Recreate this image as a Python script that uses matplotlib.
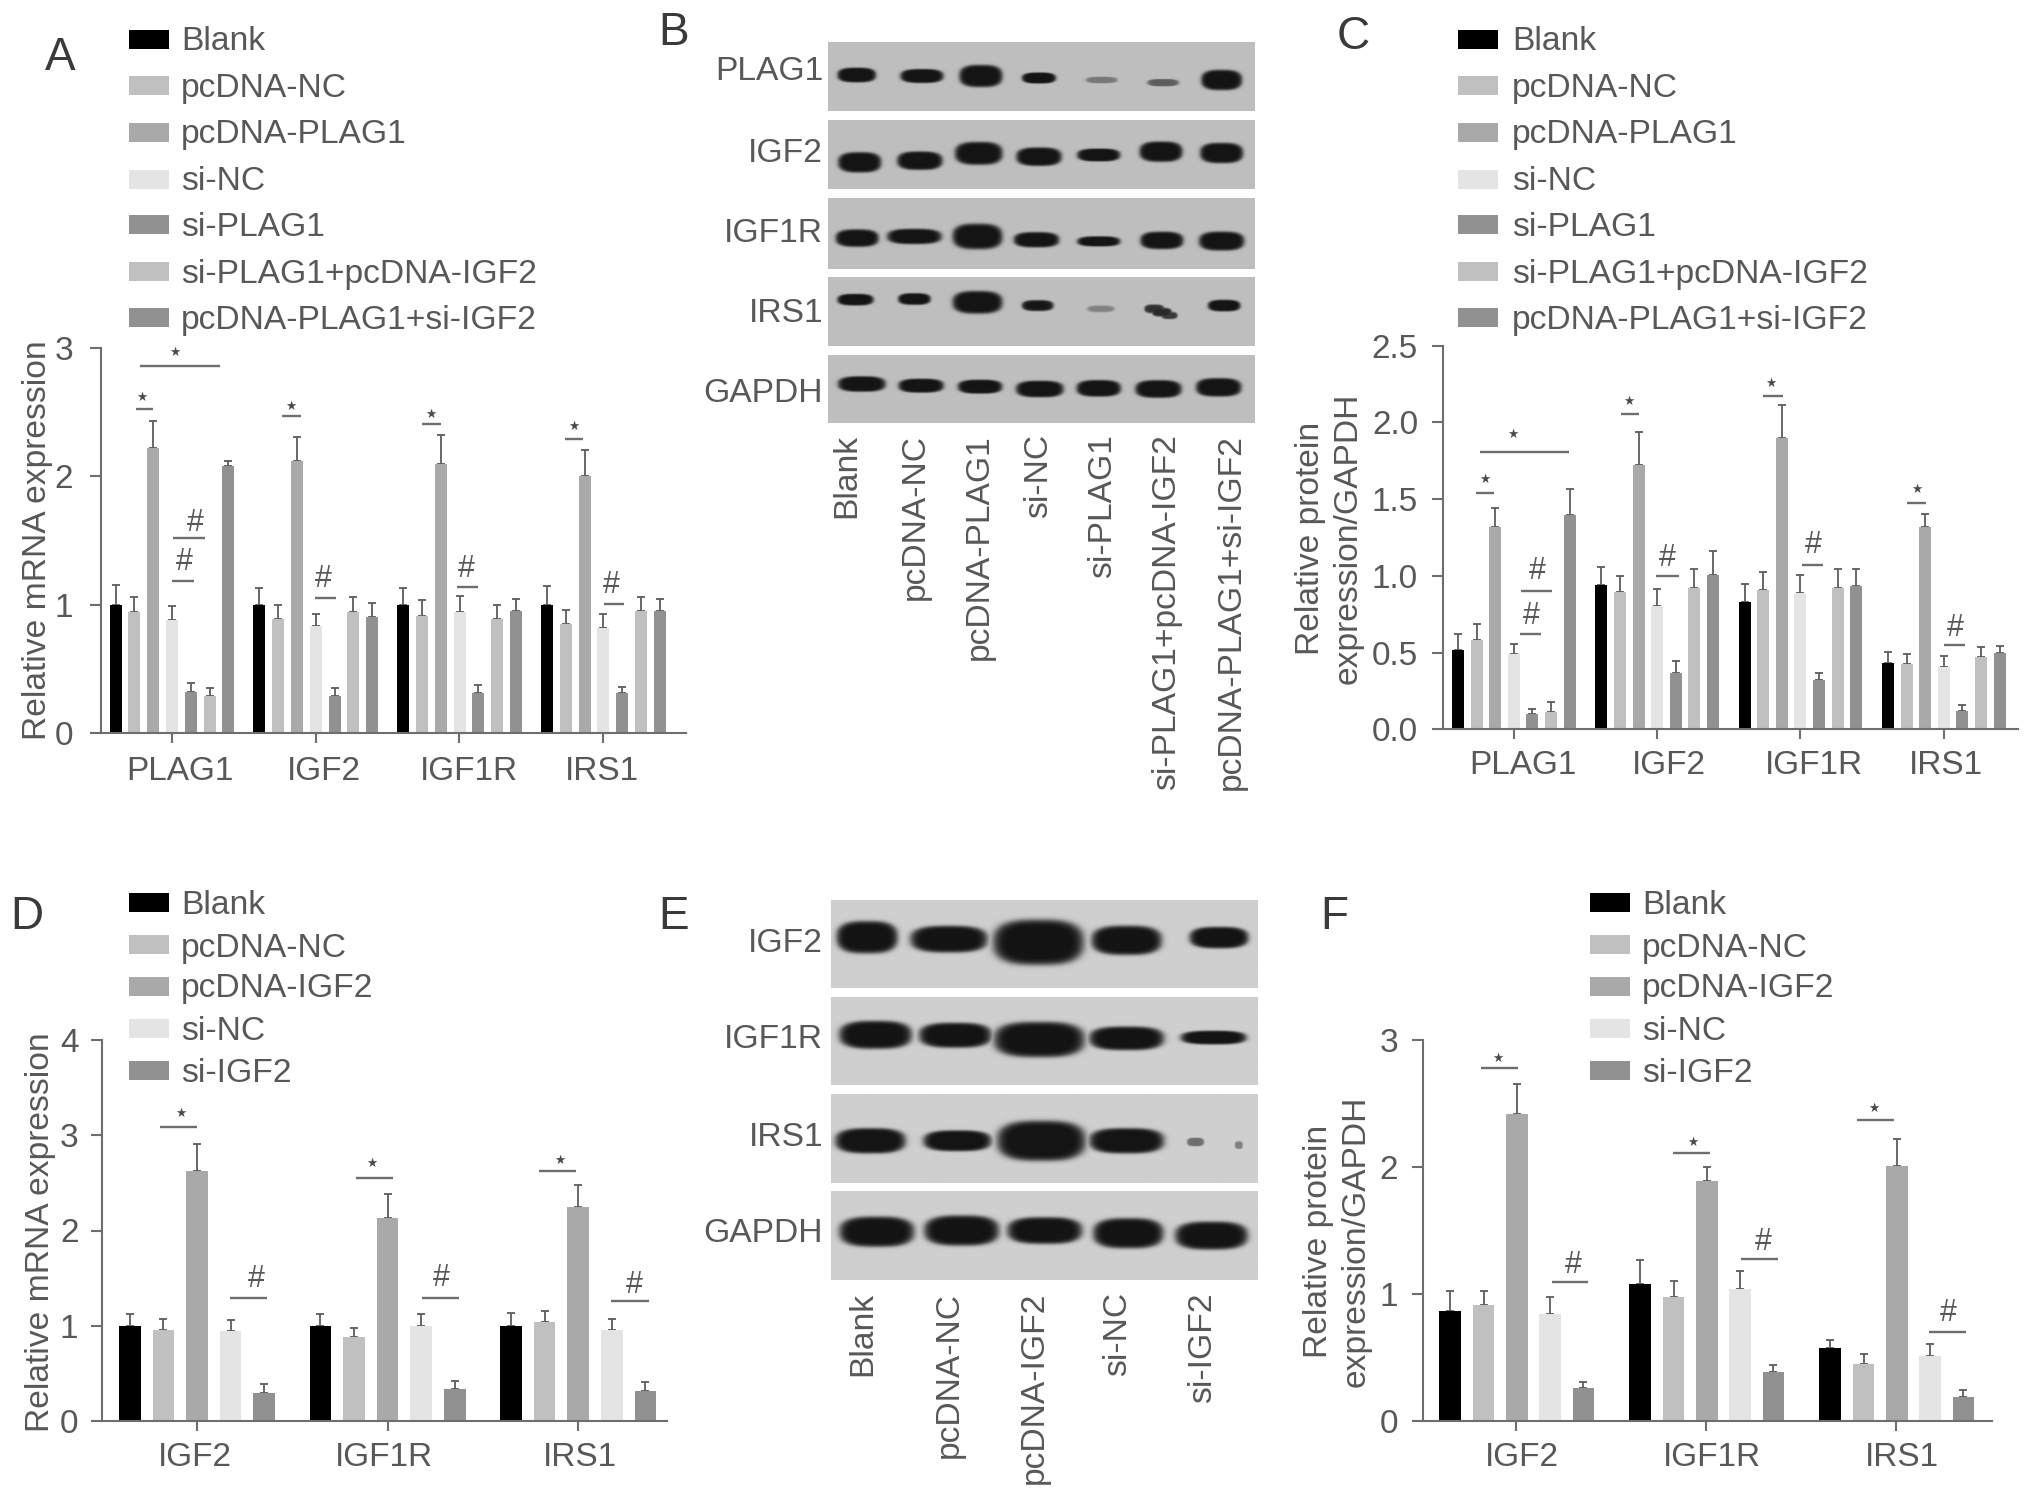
import numpy as np
import matplotlib
matplotlib.use("Agg")
import matplotlib.pyplot as plt

W, H = 2032, 1495
plt.rcParams['font.family'] = ['Liberation Sans', 'DejaVu Sans']
TXT = '#585858'
LINE = '#6e6e6e'

# ---------- data ----------
genes4 = ['PLAG1', 'IGF2', 'IGF1R', 'IRS1']
genes3 = ['IGF2', 'IGF1R', 'IRS1']
legend7 = ['Blank', 'pcDNA-NC', 'pcDNA-PLAG1', 'si-NC', 'si-PLAG1', 'si-PLAG1+pcDNA-IGF2', 'pcDNA-PLAG1+si-IGF2']
legend5 = ['Blank', 'pcDNA-NC', 'pcDNA-IGF2', 'si-NC', 'si-IGF2']
colors7 = ['#000000', '#c0c0c0', '#a9a9a9', '#e4e4e4', '#919191', '#c0c0c0', '#919191']
colors5 = ['#000000', '#c0c0c0', '#a9a9a9', '#e4e4e4', '#919191']

a_vals = [[1.0, .94, 2.22, .88, .32, .29, 2.08], [1.0, .89, 2.12, .83, .29, .94, .90],
          [1.0, .91, 2.10, .945, .31, .89, .95], [1.0, .85, 2.0, .82, .31, .95, .95]]
a_up = [[1.15, 1.06, 2.43, .99, .385, .346, 2.12], [1.13, 1.0, 2.31, .93, .346, 1.06, 1.01],
        [1.13, 1.035, 2.32, 1.07, .37, 1.0, 1.04], [1.145, .96, 2.21, .93, .354, 1.06, 1.04]]
c_vals = [[.52, .58, 1.32, .49, .098, .11, 1.395], [.94, .893, 1.72, .806, .37, .923, 1.006],
          [.83, .908, 1.896, .89, .32, .923, .936], [.434, .424, 1.316, .408, .12, .47, .5]]
c_up = [[.62, .686, 1.44, .556, .13, .18, 1.564], [1.06, 1.0, 1.94, .914, .445, 1.043, 1.164],
        [.947, 1.027, 2.113, 1.006, .37, 1.045, 1.045], [.506, .49, 1.403, .478, .159, .534, .543]]
d_vals = [[1.0, .96, 2.625, .945, .29], [1.0, .885, 2.135, 1.0, .332], [1.0, 1.04, 2.25, .96, .32]]
d_up = [[1.12, 1.075, 2.905, 1.057, .385], [1.12, .973, 2.38, 1.12, .42], [1.13, 1.16, 2.474, 1.075, .41]]
f_vals = [[.868, .915, 2.414, .84, .26], [1.08, .98, 1.886, 1.042, .383], [.573, .446, 2.005, .512, .19]]
f_up = [[1.026, 1.026, 2.657, .974, .309], [1.264, 1.10, 1.997, 1.18, .44], [.638, .528, 2.22, .604, .243]]

# significance marks: x1, x2 (zoom units), y (value), symbol, symbol x, symbol y (value)
zx1 = 1 / 2.45
zx3 = 1 / 2.085
a_sig = [(343, 540, 2.86, '★', 428, 2.97), (332, 375, 2.53, '★', 348, 2.62), (425, 502, 1.517, '#', 478, 1.64),
         (422, 475, 1.184, '#', 452, 1.33), (692, 737, 2.47, '★', 712, 2.55), (772, 822, 1.05, '#', 793, 1.2),
         (1035, 1080, 2.41, '★', 1056, 2.48), (1120, 1170, 1.14, '#', 1142, 1.28), (1385, 1428, 2.295, '★', 1406, 2.39),
         (1480, 1530, 1.004, '#', 1498, 1.15)]
c_sig = [(418, 602, 1.81, '★', 485, 1.92), (408, 447, 1.538, '★', 427, 1.63), (503, 568, .90, '#', 537, 1.03),
         (500, 545, .623, '#', 523, .74), (710, 748, 2.057, '★', 727, 2.135), (783, 832, .997, '#', 808, 1.115),
         (1008, 1048, 2.172, '★', 1023, 2.255), (1088, 1133, 1.073, '#', 1112, 1.2), (1307, 1346, 1.473, '★', 1327, 1.565),
         (1385, 1428, .55, '#', 1407, .66)]
d_sig = [(392, 482, 3.09, '★', 443, 3.23), (563, 655, 1.295, '#', 627, 1.49), (872, 962, 2.555, '★', 912, 2.7),
         (1035, 1125, 1.295, '#', 1080, 1.5), (1320, 1410, 2.62, '★', 1372, 2.74), (1497, 1590, 1.256, '#', 1555, 1.43)]
f_sig = [(420, 497, 2.776, '★', 455, 2.855), (567, 642, 1.092, '#', 612, 1.23), (820, 897, 2.113, '★', 860, 2.195),
         (962, 1038, 1.272, '#', 1007, 1.41), (1203, 1280, 2.37, '★', 1238, 2.465), (1354, 1430, .702, '#', 1393, .85)]

# blots: band centre x, centre y, width, height (zoom units), strength
b_rows = ['PLAG1', 'IGF2', 'IGF1R', 'IRS1', 'GAPDH']
b_bands = [
    [(515, 225, 85, 40, 1), (670, 228, 95, 38, 1), (810, 228, 95, 60, 1), (948, 234, 75, 30, 1), (1097, 240, 70, 18, .4), (1243, 248, 70, 20, .55), (1382, 240, 90, 55, 1)],
    [(522, 490, 95, 55, 1), (665, 485, 100, 50, 1), (805, 463, 105, 62, 1), (948, 473, 100, 50, 1), (1090, 468, 95, 35, 1), (1238, 458, 95, 55, 1), (1382, 462, 95, 55, 1)],
    [(516, 713, 95, 48, 1), (652, 708, 120, 42, 1), (802, 708, 110, 70, 1), (942, 718, 100, 42, 1), (1090, 723, 95, 28, 1), (1240, 720, 95, 48, 1), (1382, 722, 100, 52, 1)],
    [(512, 900, 80, 32, 1), (652, 898, 72, 32, 1), (802, 908, 110, 62, 1), (945, 918, 70, 30, .95), (1095, 928, 60, 18, .35), (1222, 928, 44, 24, .8), (1240, 938, 44, 24, .85), (1258, 948, 36, 20, .75), (1388, 918, 72, 32, 1)],
    [(527, 1152, 105, 42, 1), (668, 1157, 100, 38, 1), (808, 1160, 98, 38, 1), (950, 1167, 105, 45, 1), (1090, 1165, 98, 45, 1), (1232, 1167, 102, 48, 1), (1375, 1162, 100, 50, 1)],
]
b_spans = [(127, 332), (360, 568), (593, 806), (830, 1038), (1065, 1268)]
e_rows = ['IGF2', 'IGF1R', 'IRS1', 'GAPDH']
e_bands = [
    [(540, 147, 135, 75, 1), (735, 152, 170, 62, 1), (948, 160, 200, 105, 1), (1158, 155, 155, 68, 1), (1378, 148, 130, 50, 1)],
    [(560, 396, 160, 65, 1), (750, 397, 160, 58, 1), (950, 408, 200, 82, 1), (1158, 405, 165, 55, 1), (1365, 403, 145, 32, 1)],
    [(548, 665, 155, 58, 1), (755, 665, 150, 48, 1), (955, 665, 195, 92, 1), (1158, 665, 165, 58, 1), (1322, 668, 38, 20, .5), (1425, 676, 18, 18, .4)],
    [(563, 898, 165, 70, 1), (765, 895, 165, 70, 1), (963, 895, 165, 62, 1), (1162, 902, 155, 70, 1), (1360, 908, 160, 65, 1)],
]
e_spans = [(50, 276), (298, 524), (546, 772), (793, 1020)]

fig = plt.figure(figsize=(W / 100, H / 100), dpi=100, facecolor='white')


def px_axes(l, r, t, b):
    ax = fig.add_axes([l / W, 1 - b / H, (r - l) / W, (b - t) / H])
    ax.set_xlim(l, r)
    return ax


def ftext(x, y, s, **kw):
    kw.setdefault('color', TXT)
    kw.setdefault('fontsize', 24.2)
    return fig.text(x / W, 1 - y / H, s, **kw)


def bars(l, r, t, b, ymax, yticks, fmt, vals, ups, colors, x0, step, gstep, bw, gnames, tickx, labelx, sig, zoff, zsc,
         pad, xpad, ylab, ylx, yly, legs, legy, sw, txtx):
    ax = px_axes(l, r, t, b)
    ax.set_ylim(0, ymax)
    for g, (vv, uu) in enumerate(zip(vals, ups)):
        xs = [x0 + g * gstep + j * step for j in range(len(vv))]
        ax.bar(xs, vv, width=bw, color=colors, linewidth=0, zorder=2)
        ax.errorbar(xs, vv, yerr=[np.zeros(len(vv)), np.array(uu) - np.array(vv)], fmt='none', ecolor='#5c5c5c',
                    elinewidth=1.3, capsize=2.6, capthick=1.3, zorder=1)
    for x1, x2, y, s, sx, sy in sig:
        ax.plot([zoff + x1 * zsc, zoff + x2 * zsc], [y, y], color=LINE, lw=1.7, solid_capstyle='butt', clip_on=False, zorder=3)
        if s == '#':
            ax.text(zoff + sx * zsc, sy, s, ha='center', va='center', fontsize=22, color=TXT)
        else:
            ax.text(zoff + sx * zsc, sy, s, ha='center', va='center', fontsize=9, color='#4a4a4a',
                    family=['DejaVu Sans'])
    for side in ('top', 'right'):
        ax.spines[side].set_visible(False)
    for side in ('left', 'bottom'):
        ax.spines[side].set_color(LINE)
        ax.spines[side].set_linewidth(1.5)
    ax.set_yticks(yticks)
    ax.set_yticklabels([fmt.format(v) for v in yticks])
    ax.tick_params(axis='y', length=8, width=1.5, color=LINE, labelcolor=TXT, labelsize=24, pad=pad)
    ax.set_xticks(tickx)
    ax.set_xticklabels([])
    ax.tick_params(axis='x', which='major', length=7, width=1.5, color=LINE)
    ax.set_xticks(labelx, minor=True)
    ax.set_xticklabels(gnames, minor=True)
    ax.tick_params(axis='x', which='minor', length=0, labelcolor=TXT, labelsize=24, pad=xpad)
    ftext(ylx, yly, ylab, rotation=90, ha='center', va='center', multialignment='center', linespacing=1.27)
    # legend
    for name, c, y in zip(legs, colors, legy):
        fig.patches.append(plt.Rectangle((sw[0] / W, 1 - (y + 9.5) / H), (sw[1] - sw[0]) / W, 19 / H,
                                         transform=fig.transFigure, facecolor=c, edgecolor='none'))
        ftext(txtx, y + 3, name, ha='left', va='center')


def blot(l, r, spans, zoff, zy, bands, bg, dark=20):
    for (z0, z1), row in zip(spans, bands):
        t, b = zoff + z0 / zy, zoff + z1 / zy
        ax = px_axes(l, r, t, b)
        ax.set_ylim(b, t)
        ax.axis('off')
        xx = np.arange(int(l), int(r) + 1) + .5
        yy = np.arange(int(t), int(b) + 1) + .5
        X, Y = np.meshgrid(xx, yy)
        I = np.zeros_like(X)
        for cx, cy, w, h, s in row:
            px, py = 640 + cx / 2.376, zoff + cy / zy
            rr = (np.abs(X - px) / (w / 2.376 / 2 * 1.05)) ** 3 + (np.abs(Y - py) / (h / zy / 2 * 1.08)) ** 2.6
            I = np.maximum(I, s / (1 + np.exp((rr - 1) * 5)))
        img = bg + (dark - bg) * np.clip(I * 1.05, 0, 1)
        ax.imshow(img, cmap='gray', vmin=0, vmax=255, extent=(l, r, b, t), aspect='auto', interpolation='bilinear')


rows7 = [39, 85.5, 132, 179, 224, 271, 317.5]
rows5 = [902, 945, 986, 1028, 1070]

bars(101, 686, 348.3, 732.7, 3, [0, 1, 2, 3], '{:d}', a_vals, a_up, colors7, 115.5, 18.8, 143.8, 12, genes4,
     [172, 316, 459, 603], [180, 324, 469, 602], a_sig, 0, zx1, 12, 16.5, 'Relative mRNA expression', 38, 540,
     legend7, rows7, (129, 169), 181)
bars(1443, 2018, 345.7, 729.3, 2.5, [0, .5, 1, 1.5, 2, 2.5], '{:.1f}', c_vals, c_up, colors7, 1458, 18.6, 143.3, 12, genes4,
     [1513.6, 1657, 1800, 1944], [1523, 1669, 1814, 1946], c_sig, 1280, zx3, 10, 15, 'Relative protein\nexpression/GAPDH', 1329, 538,
     legend7, rows7, (1458, 1498), 1512)
bars(102, 667, 1040, 1421, 4, [0, 1, 2, 3, 4], '{:d}', d_vals, d_up, colors5, 129.8, 33.6, 190.6, 21.6, genes3,
     [197, 388, 578], [195, 384, 580], d_sig, 0, zx1, 9, 15, 'Relative mRNA expression', 41, 1232,
     legend5, rows5, (129, 169), 181)
bars(1423, 1992, 1040, 1421, 3, [0, 1, 2, 3], '{:d}', f_vals, f_up, colors5, 1450.3, 33.3, 190, 21.6, genes3,
     [1516, 1706, 1896], [1522, 1712, 1902], f_sig, 1280, zx3, 10, 15, 'Relative protein\nexpression/GAPDH', 1337, 1241,
     legend5, rows5, (1590, 1630), 1642)

# blots
blot(828, 1254.5, b_spans, 0, 3, b_bands, 190)
blot(831, 1258, e_spans, 880, 2.55, e_bands, 207)

for name, y in zip(b_rows, [72, 153, 233, 313, 393]):
    ftext(823, y, name, ha='right', va='center')
for name, x in zip(legend7, [847, 915, 979, 1039, 1103, 1167, 1231]):
    ftext(x, 434, name, rotation=90, ha='center', va='top')
for name, y in zip(e_rows, [943, 1040, 1137, 1234]):
    ftext(823, y, name, ha='right', va='center')
for name, x in zip(legend5, [863, 949, 1034, 1118, 1203]):
    ftext(x, 1292, name, rotation=90, ha='center', va='top')

for s, x, y in [('A', 60, 58), ('B', 674, 33), ('C', 1353, 37), ('D', 27, 917), ('E', 674, 917), ('F', 1334, 917)]:
    ftext(x, y, s, fontsize=33, color='#3a3a3a', ha='center', va='center')

fig.savefig('out.png', dpi=100, facecolor='white')
